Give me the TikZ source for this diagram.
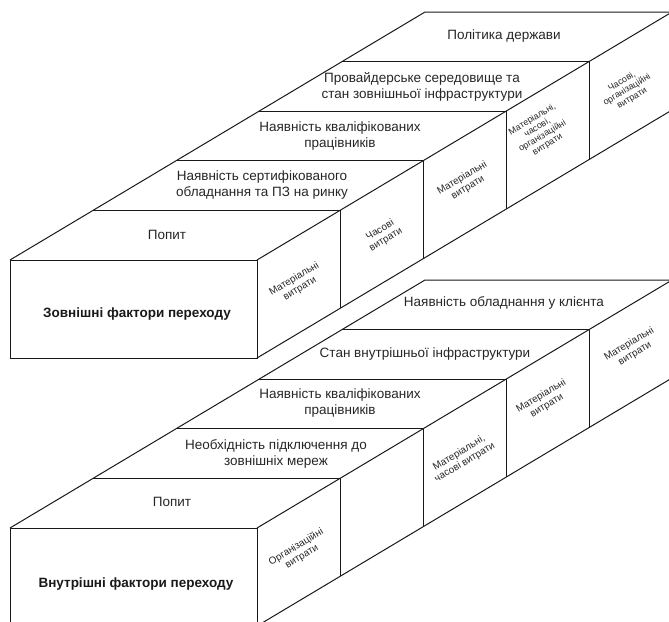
\documentclass[tikz,border=0pt]{standalone}
\usepackage{fontspec}
\setmainfont{Liberation Sans}
\begin{document}
\begin{tikzpicture}[x=1pt,y=-1pt,
  edge/.style={draw=black!90, line width=1pt},
  rowlabel/.style={font=\fontsize{13.5}{16.5}\selectfont, align=center, text=black!85, inner sep=0pt},
  sidelabel/.style={font=\fontsize{10}{11}\selectfont, align=center, rotate=31, text=black!85, inner sep=0pt},
  smallside/.style={sidelabel, font=\fontsize{9}{9.8}\selectfont},
  frontlabel/.style={font=\bfseries\fontsize{13.5}{16}\selectfont, text=black!90, inner sep=0pt}]
\useasboundingbox (0,0) rectangle (669,621);
\clip (0,0) rectangle (669,621);
\foreach \s/\o in {u/0, l/268}{
  \foreach \k in {0,...,5}{
    \coordinate (\s L\k) at ({10+83*\k},{260+\o-49.6*\k});
    \coordinate (\s R\k) at ({257+83*\k},{260+\o-49.6*\k});
    \coordinate (\s B\k) at ({257+83*\k},{358+\o-49.6*\k});
  }
  \draw[edge] (\s L0) rectangle (\s B0);
  \draw[edge] (\s L0) -- (\s L5) -- (\s R5);
  \draw[edge] (\s R0) -- (\s R5);
  \draw[edge] (\s B0) -- (\s B5);
  \foreach \k in {1,...,4}{\draw[edge] (\s L\k) -- (\s R\k) -- (\s B\k);}
  \draw[edge] (\s R5) -- (\s B5);
}
% upper structure labels
\node[rowlabel] (u0) at (167,235) {Попит};
\node[rowlabel] (u1) at (262,185) {Наявність сертифікованого\\обладнання та ПЗ на ринку};
\node[rowlabel] (u2) at (340,136) {Наявність кваліфікованих\\працівників};
\node[rowlabel] (u3) at (422,87) {Провайдерське середовище та\\стан зовнішньої інфраструктури};
\node[rowlabel] (u4) at (504,36) {Політика держави};
\node[frontlabel] (uf) at (137,314) {Зовнішні фактори переходу};
\node[sidelabel] (us0) at (297,284) {Матеріальні\\витрати};
\node[sidelabel] (us1) at (383,235) {Часові\\витрати};
\node[sidelabel] (us2) at (465,183) {Матеріальні\\витрати};
\node[smallside] (us3) at (540,132) {Матеріальні,\\часові,\\організаційні\\витрати};
\node[smallside] (us4) at (627,90) {Часові,\\організаційні\\витрати};
% lower structure labels
\node[rowlabel] (l0) at (172,502) {Попит};
\node[rowlabel] (l1) at (276,454) {Необхідність підключення до\\зовнішніх мереж};
\node[rowlabel] (l2) at (340,403) {Наявність кваліфікованих\\працівників};
\node[rowlabel] (l3) at (425,354) {Стан внутрішньої інфраструктури};
\node[rowlabel] (l4) at (504,303) {Наявність обладнання у клієнта};
\node[frontlabel] (lf) at (136,584) {Внутрішні фактори переходу};
\node[sidelabel] (ls0) at (299,552) {Організаційні\\витрати};
\node[sidelabel] (ls2) at (462,458) {Матеріальні,\\часові витрати};
\node[sidelabel] (ls3) at (544,401) {Матеріальні\\витрати};
\node[sidelabel] (ls4) at (632,349) {Матеріальні\\витрати};
\end{tikzpicture}
\end{document}
